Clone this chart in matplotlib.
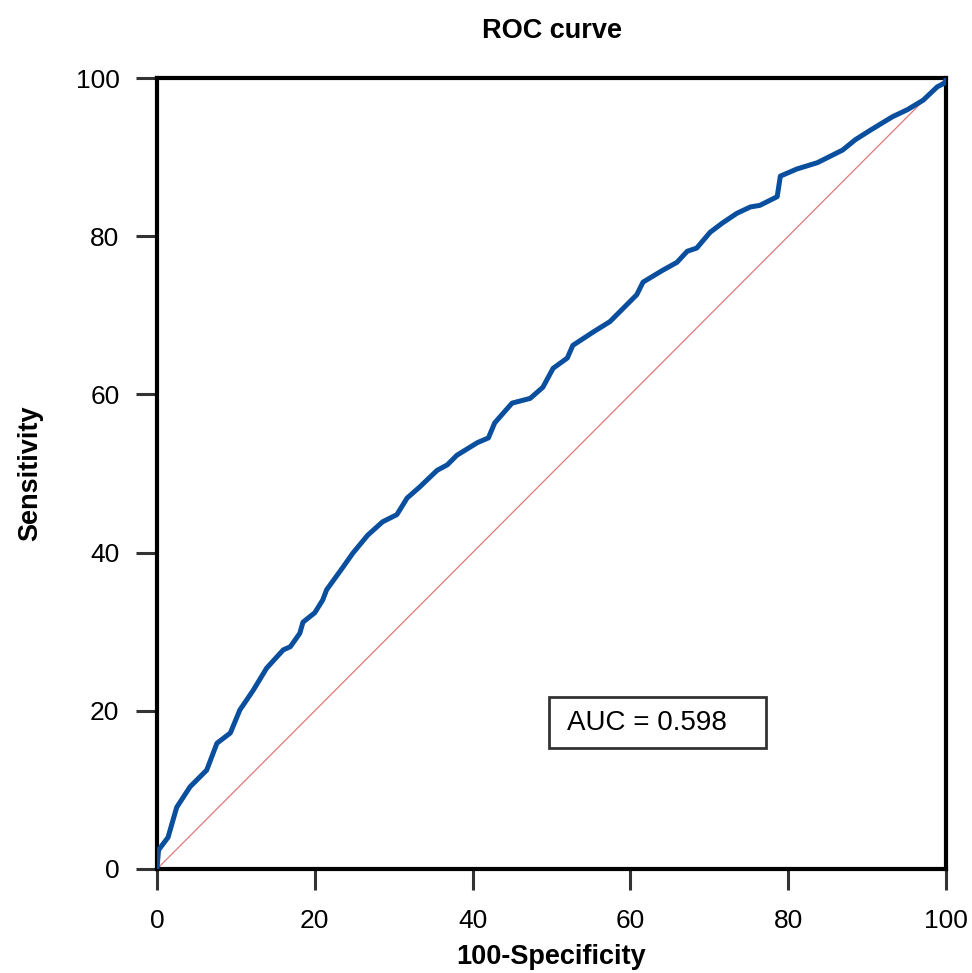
import matplotlib
matplotlib.use("Agg")
import matplotlib.pyplot as plt
from matplotlib.patches import Rectangle

plt.rcParams['font.family'] = ['Liberation Sans', 'DejaVu Sans']

fpr = [0, 0.2, 1.4, 2.5, 4.2, 6.3, 7.6, 9.3, 10.5, 12.2, 13.9, 16.0, 16.9, 18.1, 18.5,
       20.0, 21.0, 21.5, 23.6, 24.8, 26.7, 28.6, 30.4, 31.7, 33.3, 35.5, 36.8, 38.0,
       40.6, 42.0, 42.8, 45.0, 47.3, 48.9, 50.2, 52.0, 52.7, 55.3, 57.4, 59.1, 60.8,
       61.6, 64.1, 65.9, 67.2, 68.4, 70.1, 71.7, 73.5, 75.2, 76.4, 78.6, 79.0, 81.1,
       83.7, 84.9, 86.9, 88.5, 90.4, 93.2, 95.1, 97.1, 98.9, 99.9, 100]
tpr = [0, 2.4, 4.0, 7.8, 10.4, 12.5, 15.9, 17.2, 20.1, 22.6, 25.4, 27.7, 28.1, 29.8, 31.2,
       32.4, 34.0, 35.3, 38.2, 39.9, 42.2, 43.9, 44.8, 46.9, 48.3, 50.4, 51.1, 52.3,
       53.9, 54.5, 56.4, 58.9, 59.5, 60.9, 63.3, 64.6, 66.2, 67.9, 69.2, 70.9, 72.6,
       74.2, 75.7, 76.7, 78.1, 78.5, 80.5, 81.7, 82.9, 83.7, 83.9, 85.0, 87.6, 88.5,
       89.3, 89.9, 90.9, 92.2, 93.4, 95.1, 96.0, 97.2, 98.9, 99.4, 100]
ticks = [0, 20, 40, 60, 80, 100]
auc_text = "AUC = 0.598"

fig = plt.figure(figsize=(9.72, 9.73), dpi=100)
ax = fig.add_axes([0.1615, 0.1069, 0.8118, 0.8129])

ax.plot([0, 100], [0, 100], color='#e07878', lw=0.9, zorder=2)
ax.plot(fpr, tpr, color='#0a4f9e', lw=3.6, solid_joinstyle='round', zorder=3)

ax.set_xlim(0, 100)
ax.set_ylim(0, 100)
ax.set_xticks(ticks)
ax.set_yticks(ticks)
ax.tick_params(direction='out', length=15, width=2.2, color='#333333',
               labelsize=19, pad=12)
ax.tick_params(axis='x', pad=14)
for s in ax.spines.values():
    s.set_linewidth(3)
    s.set_color('black')

ax.set_title("ROC curve", fontsize=19.5, fontweight='bold', pad=29)
ax.set_xlabel("100-Specificity", fontsize=19.5, fontweight='bold', labelpad=8)
ax.set_ylabel("Sensitivity", fontsize=19.5, fontweight='bold', labelpad=23)

ax.add_patch(Rectangle((0.4968, 0.153), 0.2751, 0.0644, transform=ax.transAxes,
                       fc='white', ec='#333333', lw=2, zorder=4))
ax.text(0.5196, 0.185, auc_text, transform=ax.transAxes, fontsize=20,
        ha='left', va='center', zorder=5)

fig.savefig("out.png", dpi=100)
